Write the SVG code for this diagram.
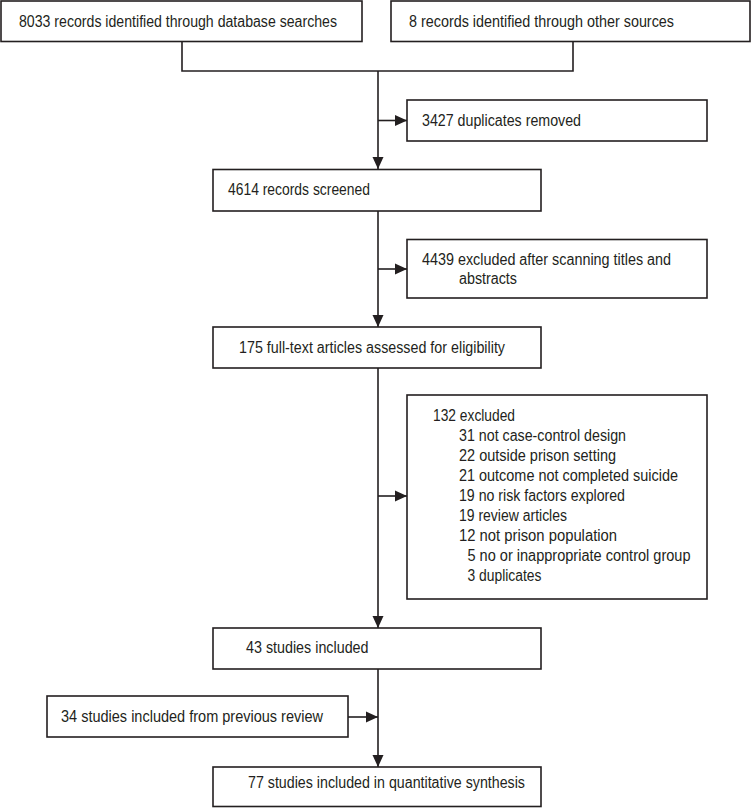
<svg xmlns="http://www.w3.org/2000/svg" width="755" height="808" viewBox="0 0 755 808">
<style>
.box{fill:#fff;stroke:#231f20;stroke-width:1.6}
.ln{fill:none;stroke:#231f20;stroke-width:1.6}
text{font-family:"Liberation Sans",Arial,sans-serif;font-size:16px;fill:#231f20}
</style>
<defs>
<marker id="ah" markerUnits="userSpaceOnUse" markerWidth="13" markerHeight="13" viewBox="0 0 13 13" refX="12" refY="6.5" orient="auto">
<path d="M0,1 L12,6.5 L0,12 Z" fill="#231f20"/>
</marker>
</defs>
<rect width="755" height="808" fill="#fff"/>
<g id="connectors">
<path class="ln" d="M182,42 V71 H573 V42"/>
<path class="ln" d="M378,71 V169" marker-end="url(#ah)"/>
<path class="ln" d="M378,120.5 H407" marker-end="url(#ah)"/>
<path class="ln" d="M378,211 V327" marker-end="url(#ah)"/>
<path class="ln" d="M378,269 H407" marker-end="url(#ah)"/>
<path class="ln" d="M378,368 V628" marker-end="url(#ah)"/>
<path class="ln" d="M378,496 H407" marker-end="url(#ah)"/>
<path class="ln" d="M378,669 V767" marker-end="url(#ah)"/>
<path class="ln" d="M348,717 H378" marker-end="url(#ah)"/>
</g>
<g id="n1"><rect class="box" x="1" y="1" width="361" height="40.5"/><text x="19" y="27" textLength="318" lengthAdjust="spacingAndGlyphs">8033 records identified through database searches</text></g>
<g id="n2"><rect class="box" x="391" y="1" width="359" height="40.5"/><text x="409" y="27" textLength="265" lengthAdjust="spacingAndGlyphs">8 records identified through other sources</text></g>
<g id="n3"><rect class="box" x="407" y="100" width="300" height="41"/><text x="422" y="125.5" textLength="159" lengthAdjust="spacingAndGlyphs">3427 duplicates removed</text></g>
<g id="n4"><rect class="box" x="213" y="169.5" width="328" height="41.5"/><text x="228" y="195" textLength="142" lengthAdjust="spacingAndGlyphs">4614 records screened</text></g>
<g id="n5"><rect class="box" x="407" y="239.5" width="300" height="58.5"/><text x="422" y="264.5" textLength="249" lengthAdjust="spacingAndGlyphs">4439 excluded after scanning titles and</text><text x="459" y="284" textLength="58" lengthAdjust="spacingAndGlyphs">abstracts</text></g>
<g id="n6"><rect class="box" x="213" y="327" width="328" height="41"/><text x="239" y="353" textLength="266" lengthAdjust="spacingAndGlyphs">175 full-text articles assessed for eligibility</text></g>
<g id="n7"><rect class="box" x="407" y="395" width="300" height="204"/>
<text x="433" y="421" textLength="82" lengthAdjust="spacingAndGlyphs">132 excluded</text>
<text x="459" y="441" textLength="167" lengthAdjust="spacingAndGlyphs">31 not case-control design</text>
<text x="459" y="461" textLength="157" lengthAdjust="spacingAndGlyphs">22 outside prison setting</text>
<text x="459" y="481" textLength="219" lengthAdjust="spacingAndGlyphs">21 outcome not completed suicide</text>
<text x="459" y="501" textLength="166" lengthAdjust="spacingAndGlyphs">19 no risk factors explored</text>
<text x="459" y="521" textLength="108" lengthAdjust="spacingAndGlyphs">19 review articles</text>
<text x="459" y="541" textLength="158" lengthAdjust="spacingAndGlyphs">12 not prison population</text>
<text x="467.5" y="561" textLength="223" lengthAdjust="spacingAndGlyphs">5 no or inappropriate control group</text>
<text x="467.5" y="581" textLength="74" lengthAdjust="spacingAndGlyphs">3 duplicates</text>
</g>
<g id="n8"><rect class="box" x="213" y="628" width="328" height="41"/><text x="246" y="653" textLength="122.5" lengthAdjust="spacingAndGlyphs">43 studies included</text></g>
<g id="n9"><rect class="box" x="47" y="696" width="301" height="41"/><text x="61" y="722" textLength="262" lengthAdjust="spacingAndGlyphs">34 studies included from previous review</text></g>
<g id="n10"><rect class="box" x="213" y="767" width="328" height="39.5"/><text x="248" y="788" textLength="277" lengthAdjust="spacingAndGlyphs">77 studies included in quantitative synthesis</text></g>
</svg>
